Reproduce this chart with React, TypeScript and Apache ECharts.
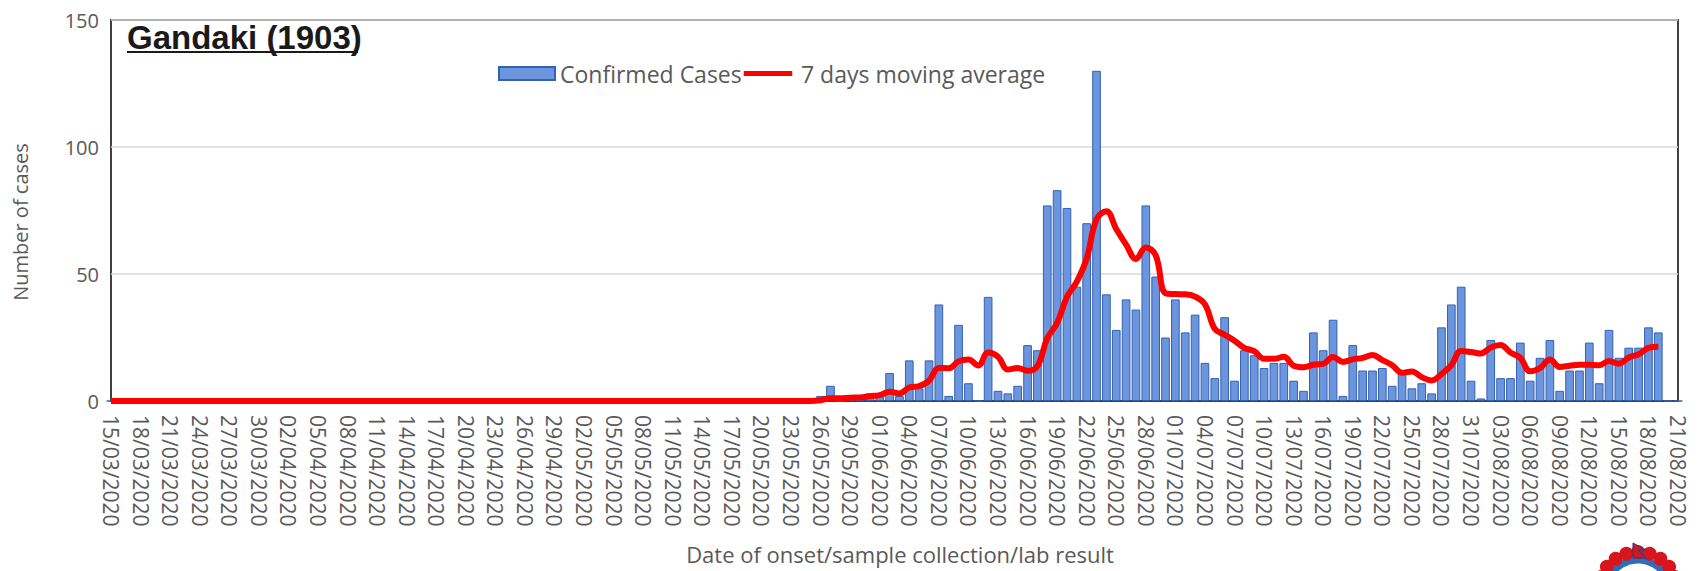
import React, { useEffect, useRef } from "react";
import * as echarts from "echarts";

// ---- Categories: one per day, 15/03/2020 .. 21/08/2020 ----
const START_DAY = { y: 2020, m: 3, d: 15 };
const DAY_COUNT = 160;
const pad2 = (n: number) => (n < 10 ? "0" + n : "" + n);
const categories: string[] = Array.from({ length: DAY_COUNT }, (_, i) => {
  const dt = new Date(START_DAY.y, START_DAY.m - 1, START_DAY.d + i);
  return `${pad2(dt.getDate())}/${pad2(dt.getMonth() + 1)}/${dt.getFullYear()}`;
});

// ---- Confirmed cases per day ----
const cases: number[] = [
  0, 0, 0, 0, 0, 0, 0, 0, 0, 0, 0, 0,
  0, 0, 0, 0, 0, 0, 0, 0, 0, 0, 0, 0,
  0, 0, 0, 0, 0, 0, 0, 0, 0, 0, 0, 0,
  0, 0, 0, 0, 0, 0, 0, 0, 0, 0, 0, 0,
  0, 0, 0, 0, 0, 0, 0, 0, 0, 0, 0, 0,
  0, 0, 0, 0, 0, 0, 0, 0, 0, 0, 0, 0,
  2, 6, 0, 1, 1, 3, 3, 11, 2, 16, 5, 16,
  38, 2, 30, 7, 0, 41, 4, 3, 6, 22, 20, 77,
  83, 76, 45, 70, 130, 42, 28, 40, 36, 77, 49, 25,
  40, 27, 34, 15, 9, 33, 8, 20, 18, 13, 15, 15,
  8, 4, 27, 20, 32, 2, 22, 12, 12, 13, 6, 11,
  5, 7, 3, 29, 38, 45, 8, 1, 24, 9, 9, 23,
  8, 17, 24, 4, 12, 12, 23, 7, 28, 17, 21, 21,
  29, 27, 0, 0,
];

// ---- 7 days moving average ----
const movingAverage: (number | null)[] = [
  0, 0, 0, 0, 0, 0, 0, 0, 0, 0, 0, 0,
  0, 0, 0, 0, 0, 0, 0, 0, 0, 0, 0, 0,
  0, 0, 0, 0, 0, 0, 0, 0, 0, 0, 0, 0,
  0, 0, 0, 0, 0, 0, 0, 0, 0, 0, 0, 0,
  0, 0, 0, 0, 0, 0, 0, 0, 0, 0, 0, 0,
  0, 0, 0, 0, 0, 0, 0, 0, 0, 0, 0, 0,
  0.3, 1.1, 1.1, 1.3, 1.4, 1.9, 2.3, 3.6, 3.0, 5.3, 5.9, 8.0,
  13.0, 12.9, 15.6, 16.3, 14.0, 19.1, 17.4, 12.4, 13.0, 11.9, 13.7, 24.7,
  30.7, 41.0, 47.0, 56.1, 71.6, 74.7, 67.7, 61.6, 55.9, 60.4, 57.4, 42.4,
  42.1, 42.0, 41.1, 38.1, 28.4, 26.1, 23.7, 20.9, 19.6, 16.6, 16.6, 17.4,
  13.9, 13.3, 14.3, 14.6, 17.3, 15.4, 16.4, 17.0, 18.1, 16.1, 14.1, 11.1,
  11.6, 9.4, 8.1, 10.6, 14.1, 19.7, 19.3, 18.7, 21.1, 22.0, 19.1, 17.0,
  11.7, 13.0, 16.3, 13.4, 13.9, 14.3, 14.3, 14.1, 15.7, 14.7, 17.1, 18.4,
  20.9, 21.4, null, null,
];

const yTicks = { min: 0, max: 150, interval: 50 };
const seriesNames = ["Confirmed Cases", "7 days moving average"];
const titleText = "Gandaki (1903)";
const yAxisTitle = "Number of cases";
const xAxisTitle = "Date of onset/sample collection/lab result";

const FONT = '"Open Sans", "Noto Sans", sans-serif';

export default function App() {
  const ref = useRef<HTMLDivElement>(null);

  useEffect(() => {
    document.body.style.margin = "0";
    if (!ref.current) return;
    const chart = echarts.init(ref.current, undefined, { renderer: "svg" });

    // small emblem (bottom-right, partially visible)
    const flowers: any[] = [];
    const cx = 1638, cy = 592, r = 40;
    for (let k = 0; k < 11; k++) {
      const a = (-175 + k * 17) * Math.PI / 180;
      flowers.push({
        type: "circle",
        shape: { cx: cx + r * Math.cos(a), cy: cy + r * Math.sin(a), r: 7 },
        style: { fill: "#d8141c" },
      });
    }

    chart.setOption({
      animation: false,
      backgroundColor: "#ffffff",
      grid: {
        left: 111,
        right: 20,
        top: 20,
        bottom: 170,
        show: true,
        borderColor: "#404040",
        borderWidth: 2,
        backgroundColor: "transparent",
      },
      legend: {
        left: 493,
        top: 57,
        itemWidth: 56,
        itemHeight: 13,
        itemGap: 2,
        textStyle: { fontSize: 23, color: "#595959", fontFamily: FONT },
        data: [
          { name: seriesNames[0], icon: "rect" },
          { name: seriesNames[1], icon: "path://M0,4.5 L56,4.5 L56,10.5 L0,10.5 Z M0,0 L0,0.01 L56,0.01 L56,0 Z M0,15 L0,14.99 L56,14.99 L56,15 Z" },
        ],
      },
      xAxis: {
        type: "category",
        data: categories,
        boundaryGap: false,
        axisTick: { show: false },
        axisLine: { show: true, lineStyle: { color: "#404040", width: 2 } },
        axisLabel: {
          interval: 2,
          rotate: -90,
          fontSize: 21,
          color: "#595959",
          fontFamily: FONT,
          margin: 14,
        },
        splitLine: { show: false },
      },
      yAxis: {
        type: "value",
        min: yTicks.min,
        max: yTicks.max,
        interval: yTicks.interval,
        axisLine: { show: false },
        axisTick: { show: false },
        axisLabel: { fontSize: 20, color: "#595959", fontFamily: FONT, margin: 12 },
        splitLine: { lineStyle: { color: "#d9d9d9", width: 1.5 } },
      },
      series: [
        {
          name: seriesNames[0],
          type: "bar",
          data: cases,
          barCategoryGap: "12%",
          itemStyle: { color: "#6b95dc", borderColor: "#3461b5", borderWidth: 1 },
        },
        {
          name: seriesNames[1],
          type: "line",
          data: movingAverage,
          smooth: 0.4,
          symbol: "none",
          showSymbol: false,
          lineStyle: { color: "#ff0000", width: 6 },
          itemStyle: { color: "#ff0000" },
          z: 5,
        },
      ],
      graphic: [
        {
          type: "text",
          left: 127,
          top: 21,
          style: {
            text: titleText,
            font: 'bold 33px "Liberation Sans", Arial, sans-serif',
            fill: "#1a1a1a",
          },
        },
        {
          type: "line",
          shape: { x1: 127, y1: 52, x2: 358, y2: 52 },
          style: { stroke: "#1a1a1a", lineWidth: 2 },
        },
        {
          type: "text",
          x: 20,
          y: 222,
          rotation: Math.PI / 2,
          style: {
            text: yAxisTitle,
            fontSize: 20,
            fontFamily: FONT,
            fill: "#595959",
            align: "center",
            verticalAlign: "middle",
          },
        },
        {
          type: "text",
          x: 900,
          y: 554,
          style: {
            text: xAxisTitle,
            fontSize: 22,
            fontFamily: FONT,
            fill: "#595959",
            align: "center",
            verticalAlign: "middle",
          },
        },
        {
          type: "group",
          children: [
            { type: "circle", shape: { cx, cy, r: 32 }, style: { fill: "#ffffff", stroke: "#2f6db5", lineWidth: 7 } },
            ...flowers,
            { type: "polygon", shape: { points: [[1633, 543], [1646, 550], [1638, 550], [1646, 558], [1633, 558]] }, style: { fill: "#d8141c", stroke: "#1f3f8f", lineWidth: 1 } },
          ],
        },
      ],
    });

    return () => chart.dispose();
  }, []);

  return <div ref={ref} style={{ width: 1698, height: 571 }} />;
}
